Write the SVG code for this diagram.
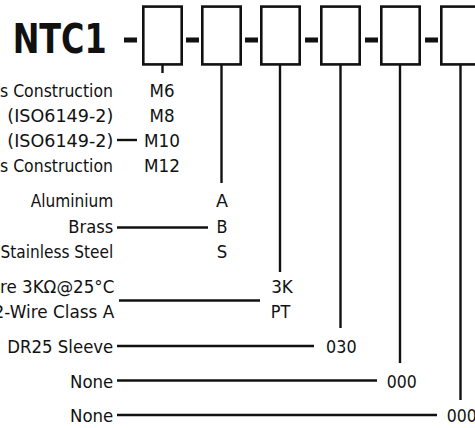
<svg xmlns="http://www.w3.org/2000/svg" width="475" height="428" viewBox="0 0 475 428">
<style>
  .box { fill: #ffffff; stroke: #111111; stroke-width: 2.6; }
  .sep { fill: #111111; }
  .ln { stroke: #111111; stroke-width: 2.4; fill: none; }
  .t { font-family: "DejaVu Sans", "Liberation Sans", sans-serif; font-size: 18.5px; fill: #111111; }
  .c { font-family: "DejaVu Sans", "Liberation Sans", sans-serif; font-size: 18.5px; fill: #111111; text-anchor: middle; }
  .title { font-family: "DejaVu Sans", "Liberation Sans", sans-serif; font-size: 40px; font-weight: bold; fill: #111111; }
</style>
<rect width="475" height="428" fill="#ffffff"/>

<g id="title">
  <text class="title" x="12.7" y="53.3" textLength="94" lengthAdjust="spacingAndGlyphs">NTC1</text>
</g>

<g id="separators">
  <rect class="sep" x="124" y="37.5" width="13" height="5"/>
  <rect class="sep" x="186" y="37.5" width="13" height="5"/>
  <rect class="sep" x="245" y="37.5" width="13" height="5"/>
  <rect class="sep" x="305" y="37.5" width="13" height="5"/>
  <rect class="sep" x="365" y="37.5" width="13" height="5"/>
  <rect class="sep" x="425" y="37.5" width="13" height="5"/>
</g>

<g id="box1"><rect class="box" x="143.3" y="6.6" width="38.4" height="57.8"/></g>
<g id="box2"><rect class="box" x="202.3" y="6.6" width="38.4" height="57.8"/></g>
<g id="box3"><rect class="box" x="261.3" y="6.6" width="38.4" height="57.8"/></g>
<g id="box4"><rect class="box" x="321.3" y="6.6" width="38.4" height="57.8"/></g>
<g id="box5"><rect class="box" x="381.3" y="6.6" width="38.4" height="57.8"/></g>
<g id="box6"><rect class="box" x="441.3" y="6.6" width="38.4" height="57.8"/></g>

<g id="connectors">
  <line class="ln" x1="162.5" y1="65" x2="162.5" y2="73"/>
  <line class="ln" x1="221.5" y1="65" x2="221.5" y2="183"/>
  <line class="ln" x1="280" y1="65" x2="280" y2="272"/>
  <line class="ln" x1="340.5" y1="65" x2="340.5" y2="328"/>
  <line class="ln" x1="400" y1="65" x2="400" y2="363"/>
  <line class="ln" x1="460.5" y1="65" x2="460.5" y2="400"/>
  <line class="ln" x1="117" y1="140" x2="137" y2="140"/>
  <line class="ln" x1="117" y1="227.5" x2="208" y2="227.5"/>
  <line class="ln" x1="119" y1="300.5" x2="260" y2="300.5"/>
  <line class="ln" x1="117" y1="346" x2="314" y2="346"/>
  <line class="ln" x1="117" y1="380.5" x2="377" y2="380.5"/>
  <line class="ln" x1="117" y1="415" x2="437" y2="415"/>
</g>

<g id="thread-options">
  <text class="t" x="0" y="96.5" textLength="113" lengthAdjust="spacingAndGlyphs">s Construction</text>
  <text class="t" x="7.3" y="121.5" textLength="106" lengthAdjust="spacingAndGlyphs">(ISO6149-2)</text>
  <text class="t" x="7.3" y="146.5" textLength="106" lengthAdjust="spacingAndGlyphs">(ISO6149-2)</text>
  <text class="t" x="0" y="171.5" textLength="113" lengthAdjust="spacingAndGlyphs">s Construction</text>
  <text class="c" x="162" y="96.5" textLength="25" lengthAdjust="spacingAndGlyphs">M6</text>
  <text class="c" x="162" y="121.5" textLength="25" lengthAdjust="spacingAndGlyphs">M8</text>
  <text class="c" x="162" y="146.5" textLength="36" lengthAdjust="spacingAndGlyphs">M10</text>
  <text class="c" x="162" y="171.5" textLength="36" lengthAdjust="spacingAndGlyphs">M12</text>
</g>

<g id="material-options">
  <text class="t" x="30.7" y="207" textLength="82.6" lengthAdjust="spacingAndGlyphs">Aluminium</text>
  <text class="t" x="68.3" y="232.5" textLength="45" lengthAdjust="spacingAndGlyphs">Brass</text>
  <text class="t" x="0.5" y="258" textLength="112.8" lengthAdjust="spacingAndGlyphs">Stainless Steel</text>
  <text class="c" x="222" y="207" textLength="12" lengthAdjust="spacingAndGlyphs">A</text>
  <text class="c" x="222" y="232.5" textLength="11" lengthAdjust="spacingAndGlyphs">B</text>
  <text class="c" x="222" y="258" textLength="10.5" lengthAdjust="spacingAndGlyphs">S</text>
</g>

<g id="sensor-options">
  <text class="t" x="0" y="293" textLength="114.3" lengthAdjust="spacingAndGlyphs">re 3KΩ@25°C</text>
  <text class="t" x="-6.5" y="318" textLength="120.8" lengthAdjust="spacingAndGlyphs">2-Wire Class A</text>
  <text class="c" x="282" y="293" textLength="21.7" lengthAdjust="spacingAndGlyphs">3K</text>
  <text class="c" x="280.5" y="318" textLength="19.5" lengthAdjust="spacingAndGlyphs">PT</text>
</g>

<g id="sleeve-option">
  <text class="t" x="7.3" y="353" textLength="106" lengthAdjust="spacingAndGlyphs">DR25 Sleeve</text>
  <text class="c" x="341.3" y="353" textLength="30.5" lengthAdjust="spacingAndGlyphs">030</text>
</g>

<g id="option5">
  <text class="t" x="70" y="387.5" textLength="43.3" lengthAdjust="spacingAndGlyphs">None</text>
  <text class="c" x="401.7" y="387.5" textLength="30" lengthAdjust="spacingAndGlyphs">000</text>
</g>

<g id="option6">
  <text class="t" x="70" y="422" textLength="43.3" lengthAdjust="spacingAndGlyphs">None</text>
  <text class="c" x="461.7" y="422" textLength="30" lengthAdjust="spacingAndGlyphs">000</text>
</g>
</svg>
